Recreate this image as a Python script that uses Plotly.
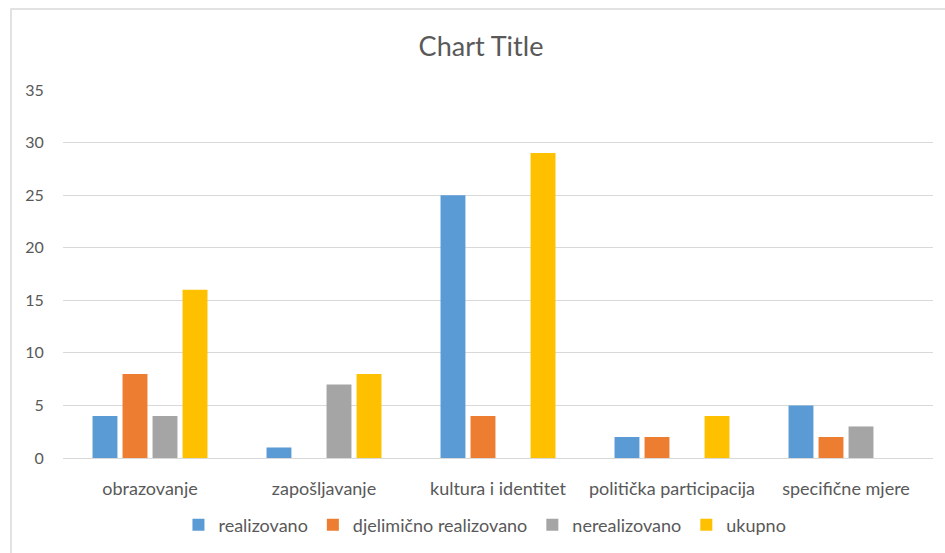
import plotly.graph_objects as go

categories = ["obrazovanje", "zapošljavanje", "kultura i identitet", "politička participacija", "specifične mjere"]
series_names = ["realizovano", "djelimično realizovano", "nerealizovano", "ukupno"]
realizovano = [4, 1, 25, 2, 5]
djelimicno = [8, 0, 4, 2, 2]
nerealizovano = [4, 7, 0, 0, 3]
ukupno = [16, 8, 29, 4, 0]
colors = ["#5B9BD5", "#ED7D31", "#A5A5A5", "#FFC000"]

FONT = "Lato, 'Open Sans', sans-serif"
TXT = "#595959"

fig = go.Figure()
for name, vals, col in zip(series_names, [realizovano, djelimicno, nerealizovano, ukupno], colors):
    fig.add_trace(go.Bar(name=name, x=categories, y=vals, marker=dict(color=col, line=dict(width=0))))

fig.update_layout(
    width=945, height=553,
    margin=dict(l=63, r=12, t=90, b=95),
    paper_bgcolor="white", plot_bgcolor="white",
    barmode="group", bargap=0.31, bargroupgap=0.17,
    title=dict(text="Chart Title", x=0.509, xref="container", xanchor="center",
               y=1 - 47 / 553, yref="container", yanchor="middle",
               font=dict(family=FONT, size=27, color=TXT)),
    font=dict(family=FONT, size=18, color=TXT),
    legend=dict(orientation="h", x=0.485, xanchor="center", xref="paper",
                y=1 - 525 / 553, yref="container", yanchor="middle",
                font=dict(family=FONT, size=18, color=TXT), itemwidth=30,
                traceorder="normal"),
    yaxis=dict(range=[0, 35], dtick=5, showgrid=True, gridcolor="#D9D9D9", gridwidth=1,
               zeroline=False, showline=False, ticks="outside", ticklen=15, automargin=False,
               tickcolor="rgba(0,0,0,0)", tickfont=dict(family=FONT, size=16, color=TXT)),
    xaxis=dict(showline=True, linecolor="#D9D9D9", linewidth=1, ticks="outside", ticklen=14,
               automargin=False,
               tickcolor="rgba(0,0,0,0)", tickfont=dict(family=FONT, size=18, color=TXT)),
    shapes=[dict(type="rect", xref="paper", yref="paper",
                 x0=-52 / 870, x1=1 + 14 / 870, y0=-(95 + 10) / 368, y1=1 + 81 / 368,
                 line=dict(color="#D9D9D9", width=1.5), fillcolor="rgba(0,0,0,0)", layer="below")],
)

fig.write_html("out.html", config={"displayModeBar": False},
               post_script="document.body.style.margin='0';")
